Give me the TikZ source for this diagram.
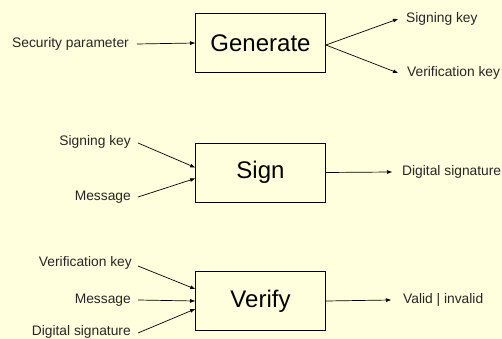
\documentclass[tikz,border=0pt]{standalone}
\usepackage{fontspec}
\setmainfont{Liberation Sans}
\usetikzlibrary{arrows.meta}
\definecolor{bgc}{RGB}{255,255,221}
\begin{document}
\begin{tikzpicture}[x=1pt,y=-1pt,
  lbl/.style={font=\fontsize{13.8}{16}\selectfont, inner sep=0pt, text=black!85},
  box/.style={draw, line width=0.8pt, minimum width=130pt, minimum height=59pt, inner sep=0pt, font=\fontsize{24}{28}\selectfont},
  arr/.style={-{Triangle[length=5pt,width=3.5pt]}, line width=0.7pt}]
\fill[bgc] (0,0) rectangle (502,339);
\useasboundingbox (0,0) rectangle (502,339);
% Generate
\node[box] (gen) at (260.5,43) {Generate};
\node[lbl, anchor=east] (sp) at (129,44) {Security parameter};
\node[lbl, anchor=west] (sk1) at (406,19) {Signing key};
\node[lbl, anchor=west] (vk1) at (407,73) {Verification key};
\draw[arr] ([xshift=8pt]sp.east) -- (gen.west);
\draw[arr] ([yshift=-2pt]gen.east) -- ([xshift=-8pt]sk1.west);
\draw[arr] ([yshift=-2pt]gen.east) -- ([xshift=-9pt]vk1.west);
% Sign
\node[box] (sign) at (260.5,172.5) {Sign};
\node[lbl, anchor=east] (sk2) at (131,142) {Signing key};
\node[lbl, anchor=east] (msg2) at (131,197) {Message};
\node[lbl, anchor=west] (ds2) at (402,172) {Digital signature};
\draw[arr] ([xshift=7pt,yshift=-1pt]sk2.east) -- ([yshift=5pt]sign.west);
\draw[arr] ([xshift=7pt]msg2.east) -- ([yshift=-6pt]sign.west);
\draw[arr] (sign.east) -- ([xshift=-10pt]ds2.west);
% Verify
\node[box] (ver) at (260.5,301) {Verify};
\node[lbl, anchor=east] (vk3) at (132,263) {Verification key};
\node[lbl, anchor=east] (msg3) at (131,300) {Message};
\node[lbl, anchor=east] (ds3) at (131,332) {Digital signature};
\node[lbl, anchor=west] (vi) at (403,300) {Valid | invalid};
\draw[arr] ([xshift=6pt,yshift=-3pt]vk3.east) -- ([yshift=12pt]ver.west);
\draw[arr] ([xshift=7pt]msg3.east) -- (ver.west);
\draw[arr] ([xshift=7pt,yshift=-1pt]ds3.east) -- ([yshift=-8pt]ver.west);
\draw[arr] (ver.east) -- ([xshift=-12pt]vi.west);
\end{tikzpicture}
\end{document}
